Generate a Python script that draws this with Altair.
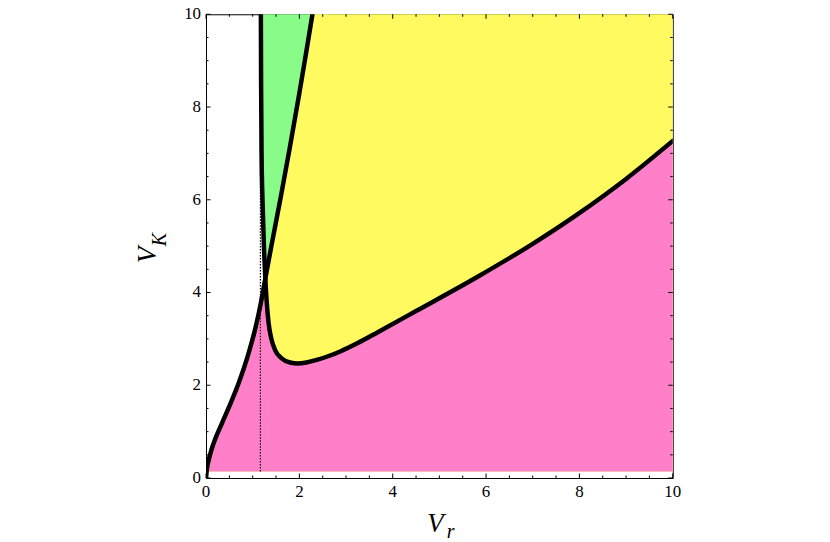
import altair as alt
import pandas as pd

# ---- data ----
A_x = [0, 0.02, 0.06, 0.12, 0.2, 0.35, 0.5, 0.7, 0.9, 1.05, 1.17, 1.27, 1.4, 1.6, 1.8, 2.0, 2.15, 2.28]
A_y = [0, 0.2, 0.4, 0.62, 0.85, 1.2, 1.55, 2.05, 2.65, 3.2, 3.75, 4.3, 5.0, 6.05, 7.15, 8.3, 9.2, 10]

B_x = [1.175, 1.18, 1.19, 1.21, 1.24, 1.27, 1.30, 1.34, 1.40, 1.48, 1.62, 1.80, 1.97, 2.15, 2.35,
       2.60, 2.90, 3.25, 3.69, 4.5, 5.82, 7.0, 7.95, 9.0, 10]
B_y = [10, 8.5, 7.0, 6.0, 5.0, 4.3, 3.8, 3.35, 3.0, 2.76, 2.58, 2.49, 2.47, 2.49, 2.54,
       2.62, 2.74, 2.91, 3.15, 3.6, 4.34, 5.05, 5.68, 6.45, 7.27]

cross_x = 1.27          # where the two curves meet
asym_x = 1.165          # dotted vertical line
floor_y = 0.14          # bottom of the shaded regions
top_y = 10

major_ticks = [0, 2, 4, 6, 8, 10]
tick_labels = ["0", "2", "4", "6", "8", "10"]
minor_ticks = [0.5, 1, 1.5, 2.5, 3, 3.5, 4.5, 5, 5.5, 6.5, 7, 7.5, 8.5, 9, 9.5]

# ---- tables ----
A = pd.DataFrame({"x": A_x, "y": A_y})
B = pd.DataFrame({"x": B_x, "y": B_y})

pink = pd.concat([A[A.x <= cross_x], B[B.x > cross_x]]).assign(y2=floor_y)
yellow = pd.concat([A, pd.DataFrame({"x": [10], "y": [top_y]})]).assign(y2=floor_y)
green = B[B.x <= 2.6].assign(y2=top_y)
labels_df = pd.DataFrame({"v": major_ticks, "t": tick_labels})

W, H = 469, 466
xs = alt.Scale(domain=[0, 10], nice=False, zero=False)
ys = alt.Scale(domain=[0, 10], nice=False, zero=False)
FONT = "'Liberation Serif', 'Times New Roman', Times, serif"

X = lambda f: alt.X(f, scale=xs, axis=None)
Y = lambda f: alt.Y(f, scale=ys, axis=None)

def area(df, color):
    return alt.Chart(df).mark_area(color=color, opacity=1, interpolate="monotone").encode(
        x=X("x:Q"), y=Y("y:Q"), y2="y2:Q")

green_l = area(green, "#88fb88")
yellow_l = area(yellow, "#fffa60")
pink_l = area(pink, "#ff80c8")

dotted = alt.Chart(pd.DataFrame({"x": [asym_x], "y": [floor_y], "y2": [top_y]})).mark_rule(
    color="black", strokeWidth=1.2, strokeDash=[1.5, 1.5]).encode(
    x=X("x:Q"), y=Y("y:Q"), y2="y2:Q")

def curve(df):
    return alt.Chart(df).mark_line(color="black", strokeWidth=4.5, interpolate="monotone",
                                   strokeCap="round", clip=True).encode(
        x=X("x:Q"), y=Y("y:Q"), order="x:Q")

lineA = curve(A)
lineB = curve(B)

ticks = []
for vals, ln in ((major_ticks, 4.5), (minor_ticks, 2.5)):
    tdf = pd.DataFrame({"v": vals})
    rule = alt.Chart(tdf).mark_rule(color="black", strokeWidth=1)
    ticks += [
        rule.encode(x=X("v:Q"), y=alt.value(H), y2=alt.value(H - ln)),
        rule.encode(x=X("v:Q"), y=alt.value(0), y2=alt.value(ln)),
        rule.encode(y=Y("v:Q"), x=alt.value(0), x2=alt.value(ln)),
        rule.encode(y=Y("v:Q"), x=alt.value(W), x2=alt.value(W - ln)),
    ]

xlabels = alt.Chart(labels_df).mark_text(font=FONT, fontSize=17, color="black", align="center",
                                         baseline="alphabetic").encode(
    x=X("v:Q"), y=alt.value(H + 19), text="t:N")
ylabels = alt.Chart(labels_df).mark_text(font=FONT, fontSize=17, color="black", align="right",
                                         baseline="middle").encode(
    y=Y("v:Q"), x=alt.value(-5), text="t:N")

one = pd.DataFrame({"a": [0]})
def label(txt, x, y, size, angle=0, align="center"):
    return alt.Chart(one).mark_text(text=txt, font=FONT, fontStyle="italic", fontSize=size,
                                    color="black", angle=angle, align=align,
                                    baseline="alphabetic").encode(x=alt.value(x), y=alt.value(y))

# positions relative to the plot's top-left corner (page 207, 13)
titles = [
    label("V", 230.5, 520, 27),
    label("r", 242, 526, 20, align="left"),
    label("V", -50, 242, 27, angle=270),
    label("K", -40, 233, 20, angle=270, align="left"),
]

chart = alt.layer(green_l, yellow_l, pink_l, dotted, lineA, lineB, *ticks, xlabels, ylabels,
                  *titles).properties(
    width=W, height=H,
    autosize=alt.AutoSizeParams(type="none"),
    padding={"left": 199, "top": 5, "right": 150, "bottom": 62},
).configure_view(stroke="black", strokeWidth=1)

chart.save("out.html", embed_options={"renderer": "svg", "actions": False})
